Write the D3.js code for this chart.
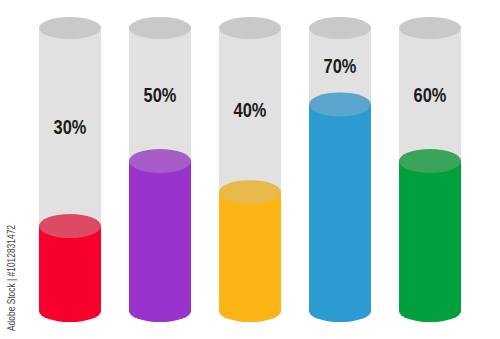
<!DOCTYPE html>
<html>
<head>
    <meta charset="utf-8">
    <title>Cylinder Levels</title>
    <script type="text/javascript" src="https://cdn.jsdelivr.net/npm/d3@7"></script>
    <style>
        body { margin: 0; background: #fff; }
    </style>
</head>

<body>

<script type="text/javascript">
    // values shown on the labels, and fill level
    var labels = ["30%", "50%", "40%", "70%", "60%"],
        fillLevels = [30, 53, 42, 73, 53],
        bodyColors = ["#f8002d", "#9933cc", "#fdb515", "#2b9bd1", "#00a03c"],
        capColors = ["#dc4a64", "#a85cc8", "#e8b84a", "#5aa5cc", "#3aa45a"];

    var w = 500,
            h = 339,
            cw = 62,
            ry = 11;

    var svg = d3.select("body").append("svg")
            .attr("width", w)
            .attr("height", h);

    var x = d3.scalePoint()
            .domain(d3.range(labels.length))
            .range([25, 475])
            .padding(0.5);

    var y = d3.scaleLinear()
            .domain([0, 100])
            .range([311, 28]);

    // rect + rounded bottom, from level to 0
    function body(i, level) {
        var cx = x(i), l = cx - cw / 2, r = cx + cw / 2, top = y(level), bot = y(0);
        return "M" + l + "," + top + "L" + r + "," + top + "L" + r + "," + bot +
                "A" + (cw / 2) + "," + ry + " 0 0 1 " + l + "," + bot + "Z";
    }

    var g = svg.selectAll("g.cyl")
            .data(labels)
          .enter().append("g")
            .attr("class", "cyl");

    // glass tube
    g.append("path")
            .attr("d", function(d, i) { return body(i, 100); })
            .style("fill", "#e1e1e1");

    g.append("ellipse")
            .attr("cx", function(d, i) { return x(i); })
            .attr("cy", y(100))
            .attr("rx", cw / 2)
            .attr("ry", ry)
            .style("fill", "#c9c9c9");

    // liquid
    g.append("path")
            .attr("d", function(d, i) { return body(i, fillLevels[i]); })
            .style("fill", function(d, i) { return bodyColors[i]; });

    g.append("ellipse")
            .attr("cx", function(d, i) { return x(i); })
            .attr("cy", function(d, i) { return y(fillLevels[i]); })
            .attr("rx", cw / 2)
            .attr("ry", ry + 1)
            .style("fill", function(d, i) { return capColors[i]; });

    // label half way in the empty part, squeezed like a narrow face
    g.append("text")
            .attr("transform", function(d, i) {
                return "translate(" + x(i) + "," + (y(100) + y(fillLevels[i])) / 2 + ") scale(0.82,1)";
            })
            .attr("dy", "0.36em")
            .attr("text-anchor", "middle")
            .style("font-family", "'Liberation Sans', Arial, sans-serif")
            .style("font-weight", "bold")
            .style("font-size", "20px")
            .style("fill", "#1a1a1a")
            .text(function(d) { return d; });

    svg.append("text")
            .attr("transform", "translate(15,331) rotate(-90)")
            .attr("textLength", 106)
            .attr("lengthAdjust", "spacingAndGlyphs")
            .style("font-family", "'Liberation Sans', sans-serif")
            .style("font-size", "10px")
            .style("fill", "#444")
            .text("Adobe Stock | #1012831472");
</script>

</body>

</html>
